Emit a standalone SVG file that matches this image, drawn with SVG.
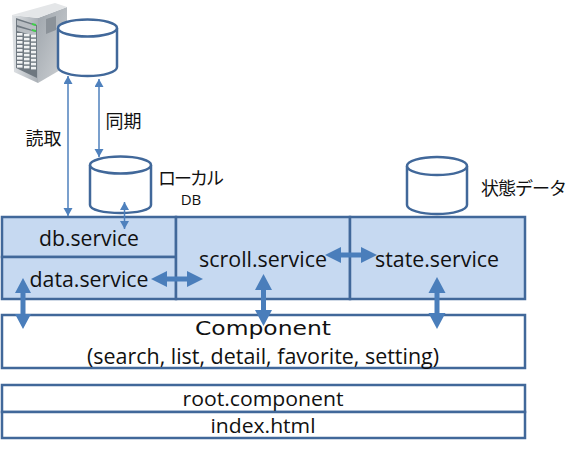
<svg xmlns="http://www.w3.org/2000/svg" width="582" height="454" viewBox="0 0 582 454">
<style>
.box{fill:#c6d9f1;stroke:#41689a;stroke-width:2.5}
.wbox{fill:#fff;stroke:#41689a;stroke-width:2.5}
.cyl{fill:#fff;stroke:#41689a;stroke-width:2.5}
.thin{fill:none;stroke:#4f81bd;stroke-width:1.5;marker-start:url(#mh);marker-end:url(#mh)}
.thick{fill:#4a7ebb;stroke:none}
text{font-family:"Open Sans","Noto Sans","Liberation Sans","Noto Sans CJK JP",sans-serif;fill:#111;text-anchor:middle}
.t{font-size:22px}
.s{font-size:20px}
.j{font-family:"Noto Sans CJK JP","Noto Sans",sans-serif;font-size:18px}
</style>
<defs>
<marker id="mh" markerUnits="userSpaceOnUse" markerWidth="12" markerHeight="10" refX="8" refY="4.500" orient="auto-start-reverse"><path d="M0 0L8 4.500L0 9z" fill="#4f81bd"/></marker>
<linearGradient id="sf" x1="0" y1="0" x2="1" y2="0"><stop offset="0" stop-color="#dfe2e5"/><stop offset="1" stop-color="#aab0b6"/></linearGradient>
<linearGradient id="ss" x1="0" y1="0" x2="1" y2="1"><stop offset="0" stop-color="#9ea5ac"/><stop offset="1" stop-color="#d0d3d6"/></linearGradient>
<g id="dn"><rect x="0" y="0" width="5.500" height="2.600" fill="#f0f2f3"/><rect x="7" y="0.800" width="5.500" height="2.600" fill="#f0f2f3"/><rect x="14" y="1.800" width="5" height="2.600" fill="#f0f2f3"/></g>
</defs>
<g id="server">
<path d="M38 18L67 7V66L38 83z" fill="url(#ss)"/>
<path d="M12 15L38 18V83L14 72z" fill="url(#sf)"/>
<path d="M12 15L55 3L67 7L38 18z" fill="#e4e6e8"/>
<path d="M46 19L56 16V30L46 34z" fill="#8b9299"/>
<path d="M16 18L37 25V78L16 68z" fill="#6f7880"/>
<path d="M17 20L36 26V31L17 25zM17 27L36 32V36L17 31z" fill="#b8bdc2"/>
<path d="M32 23L36 24V26L32 25zM32 29L36 30V32L32 31z" fill="#3fd04a"/>
<use href="#dn" x="17" y="33"/><use href="#dn" x="17" y="37"/><use href="#dn" x="17" y="41"/><use href="#dn" x="17" y="45"/><use href="#dn" x="17" y="49"/><use href="#dn" x="17" y="53"/><use href="#dn" x="17" y="57"/><use href="#dn" x="17" y="61"/><use href="#dn" x="17" y="65"/>
</g>
<g id="db-remote"><path class="cyl" d="M58 28V67C58 72 71 76 87.500 76S117 72 117 67V28"/><ellipse class="cyl" cx="87.500" cy="28" rx="29.500" ry="8.500"/></g>
<g id="db-service-layer">
<rect class="box" x="2" y="217" width="174" height="40"/>
<text class="t" x="89" y="246" textLength="100" lengthAdjust="spacingAndGlyphs">db.service</text>
</g>
<g id="data-service">
<rect class="box" x="2" y="257" width="174" height="42"/>
<text class="t" x="89" y="287" textLength="119" lengthAdjust="spacingAndGlyphs">data.service</text>
</g>
<g id="scroll-service">
<rect class="box" x="176" y="217" width="174" height="82"/>
<text class="t" x="263" y="267" textLength="128" lengthAdjust="spacingAndGlyphs">scroll.service</text>
</g>
<g id="state-service">
<rect class="box" x="350" y="217" width="175" height="82"/>
<text class="t" x="437" y="267" textLength="124" lengthAdjust="spacingAndGlyphs">state.service</text>
</g>
<g id="db-local"><path class="cyl" d="M90 165V205C90 210 104 213 120.500 213S151 210 151 205V165"/><ellipse class="cyl" cx="120.500" cy="165" rx="30.500" ry="8.500"/></g>
<g id="db-state"><path class="cyl" d="M407 166V205C407 210 421 214 437 214S467 210 467 205V166"/><ellipse class="cyl" cx="437" cy="166" rx="30" ry="9"/></g>
<g id="component">
<rect class="wbox" x="2" y="315" width="523" height="53"/>
<text x="263" y="335" font-size="20" textLength="136" lengthAdjust="spacingAndGlyphs" style="font-family:'DejaVu Sans',sans-serif">Component</text>
<text class="t" x="263" y="364" textLength="352" lengthAdjust="spacingAndGlyphs">(search, list, detail, favorite, setting)</text>
</g>
<g id="root-component">
<rect class="wbox" x="2" y="385" width="523" height="27"/>
<text class="s" x="263" y="406" textLength="161" lengthAdjust="spacingAndGlyphs">root.component</text>
</g>
<g id="index-html">
<rect class="wbox" x="2" y="412" width="523" height="26"/>
<text class="s" x="263" y="433" textLength="105" lengthAdjust="spacingAndGlyphs">index.html</text>
</g>
<g id="connectors">
<path class="thin" d="M68 76V216"/>
<path class="thin" d="M99 79V157"/>
<path class="thin" d="M124.500 202V229"/>
<path class="thick" d="M23 278L31 293H25.500V314H31L23 329L15 314H20.500V293H15z"/>
<path class="thick" d="M151 279L167 271V276.500H187V271L203 279L187 287V281.500H167V287z"/>
<path class="thick" d="M263.500 274L272 290H266V310H272L263.500 326L255 310H261V290H255z"/>
<path class="thick" d="M325 255L341 247V252.500H361V247L377 255L361 263V257.500H341V263z"/>
<path class="thick" d="M437 277L445.500 293H439.500V313H445.500L437 329L428.500 313H434.500V293H428.500z"/>
</g>
<g id="labels">
<text class="j" x="43.500" y="145">読取</text>
<text class="j" x="123.500" y="128">同期</text>
<text class="j" x="191" y="185" textLength="66">ローカル</text>
<text x="191" y="205" font-size="15">DB</text>
<text class="j" x="524" y="195" textLength="86">状態データ</text>
</g>
</svg>
